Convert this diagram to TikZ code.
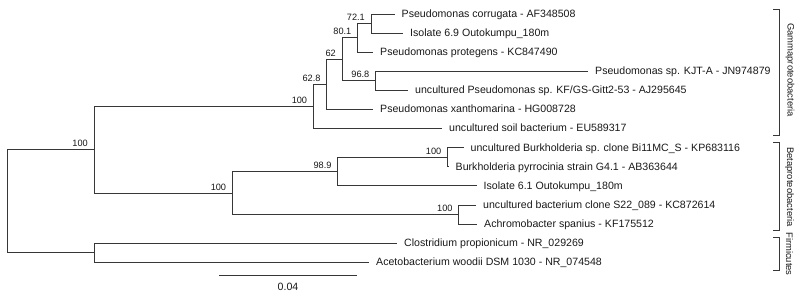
\documentclass[tikz,border=0pt]{standalone}
\usepackage{fontspec}
\setmainfont{Liberation Sans}
\usetikzlibrary{positioning}
\definecolor{TreeGray}{RGB}{55,55,55}
\definecolor{LabelGray}{RGB}{25,25,25}

\begin{document}
\begin{tikzpicture}[x=1pt,y=-1pt,
    branch/.style={draw=TreeGray,line width=0.9pt},
    leaf/.style={anchor=west,inner xsep=7pt,inner ysep=0pt,
      text height=1.5ex,text depth=.25ex,
      font=\fontsize{10.6}{12}\selectfont,text=LabelGray},
    boot/.style={anchor=base east,inner sep=0pt,xshift=-6pt,yshift=3pt,
      font=\fontsize{9.2}{11}\selectfont,text=LabelGray},
    clade/.style={draw=TreeGray,line width=0.8pt},
    cladename/.style={rotate=-90,inner sep=0pt,
      font=\fontsize{9.4}{11}\selectfont,text=LabelGray}]
  \useasboundingbox (0,0) rectangle (802,298);

  % leaves
  \node[leaf] (corr)  at (394.5,14.0)  {Pseudomonas corrugata - AF348508};
  \node[leaf] (iso69) at (403,33.1)    {Isolate 6.9 Outokumpu\_180m};
  \node[leaf] (prot)  at (373,52.2)    {Pseudomonas protegens - KC847490};
  \node[leaf] (kjta)  at (588,71.3)    {Pseudomonas sp. KJT-A - JN974879};
  \node[leaf] (kfgs)  at (408,90.4)    {uncultured Pseudomonas sp. KF/GS-Gitt2-53 - AJ295645};
  \node[leaf] (xant)  at (373,109.5)   {Pseudomonas xanthomarina - HG008728};
  \node[leaf] (soil)  at (442,128.6)   {uncultured soil bacterium - EU589317};
  \node[leaf] (bi11)  at (463.5,147.7) {uncultured Burkholderia sp. clone Bi11MC\_S - KP683116};
  \node[leaf] (pyrr)  at (448.5,166.8) {Burkholderia pyrrocinia strain G4.1 - AB363644};
  \node[leaf] (iso61) at (476.5,185.9) {Isolate 6.1 Outokumpu\_180m};
  \node[leaf] (s22)   at (476,205.0)   {uncultured bacterium clone S22\_089 - KC872614};
  \node[leaf] (achr)  at (477,224.1)   {Achromobacter spanius - KF175512};
  \node[leaf] (clos)  at (397,243.2)   {Clostridium propionicum - NR\_029269};
  \node[leaf] (acet)  at (369,262.3)   {Acetobacterium woodii DSM 1030 - NR\_074548};

  % inner nodes
  \coordinate (n721)   at (371,23.55);
  \coordinate (n801)   at (357.5,37.9);
  \coordinate (n968)   at (375.5,80.85);
  \coordinate (n62)    at (342,59.4);
  \coordinate (n628)   at (326.7,84.4);
  \coordinate (gamma)  at (313.3,106.5);
  \coordinate (burk)   at (447.5,157.25);
  \coordinate (n989)   at (337.7,171.6);
  \coordinate (achro)  at (458.7,214.55);
  \coordinate (beta)   at (232.3,193.1);
  \coordinate (proteo) at (94,149.8);
  \coordinate (firm)   at (94,252.75);
  \coordinate (root)   at (7.3,201.3);

  % branches
  \draw[branch] (n721) |- (corr.west)  (n721) |- (iso69.west);
  \draw[branch] (n801) |- (n721)       (n801) |- (prot.west);
  \draw[branch] (n968) |- (kjta.west)  (n968) |- (kfgs.west);
  \draw[branch] (n62) |- (n801)        (n62) |- (n968);
  \draw[branch] (n628) |- (n62)        (n628) |- (xant.west);
  \draw[branch] (gamma) |- (n628)      (gamma) |- (soil.west);
  \draw[branch] (burk) |- (bi11.west)  (burk) |- (pyrr.west);
  \draw[branch] (n989) |- (burk)       (n989) |- (iso61.west);
  \draw[branch] (achro) |- (s22.west)  (achro) |- (achr.west);
  \draw[branch] (beta) |- (n989)       (beta) |- (achro);
  \draw[branch] (proteo) |- (gamma)    (proteo) |- (beta);
  \draw[branch] (firm) |- (clos.west)  (firm) |- (acet.west);
  \draw[branch] (root) |- (proteo)     (root) |- (firm);

  % bootstrap values
  \node[boot] (b721)   at (n721)   {72.1};
  \node[boot] (b801)   at (n801)   {80.1};
  \node[boot] (b968)   at (n968)   {96.8};
  \node[boot] (b62)    at (n62)    {62};
  \node[boot] (b628)   at (n628)   {62.8};
  \node[boot] (bgamma) at (gamma)  {100};
  \node[boot] (bburk)  at (burk)   {100};
  \node[boot] (b989)   at (n989)   {98.9};
  \node[boot] (bachro) at (achro)  {100};
  \node[boot] (bbeta)  at (beta)   {100};
  \node[boot] (bprot)  at (proteo) {100};

  % clade brackets
  \draw[clade] (773,9.3) -- (779,9.3) -- (779,135) -- (773,135);
  \draw[clade] (773,142.7) -- (779,142.7) -- (779,230.7) -- (773,230.7);
  \draw[clade] (773,237.3) -- (779,237.3) -- (779,270) -- (773,270);
  \node[cladename] (gname) at (790,70)    {Gammaproteobacteria};
  \node[cladename] (bname) at (789.5,187) {Betaproteobacteria};
  \node[cladename] (fname) at (789.5,254) {Firmicutes};

  % scale bar
  \coordinate (sb1) at (219.3,275);
  \coordinate (sb2) at (356.7,275);
  \draw[branch] (sb1) -- (sb2);
  \node[font=\fontsize{10.6}{12}\selectfont,text=LabelGray] (sbtext) at (288,286.7) {0.04};
\end{tikzpicture}
\end{document}
